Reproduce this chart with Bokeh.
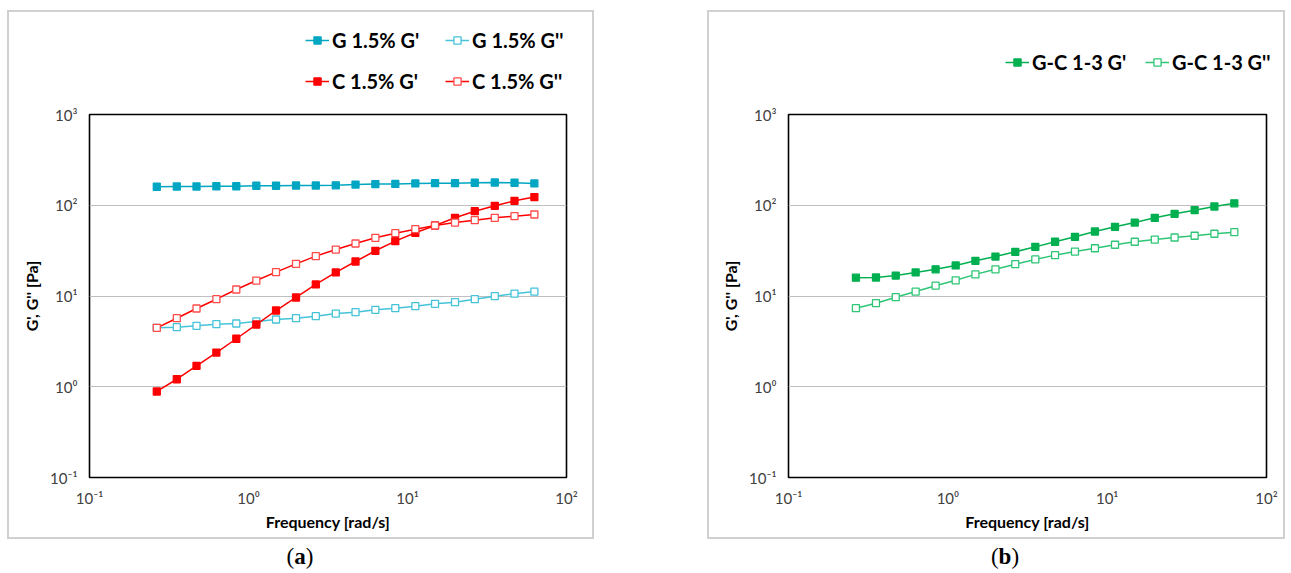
from bokeh.plotting import figure
from bokeh.layouts import row, column
from bokeh.models import (FixedTicker, CustomJSTickFormatter, Legend, LegendItem,
                          Range1d, Div, Spacer, Plot)
from bokeh.embed import file_html
from bokeh.resources import INLINE

# ---------------- data ----------------
freq = [0.265, 0.354, 0.471, 0.628, 0.838, 1.12, 1.49, 1.99, 2.65, 3.54,
        4.71, 6.28, 8.38, 11.2, 14.9, 19.9, 26.5, 35.4, 47.1, 62.8]

g15_gp = [160, 161, 161, 162, 162, 164, 164, 165, 165, 166,
          169, 171, 172, 174, 175, 175, 177, 178, 177, 174]
g15_gpp = [4.46, 4.53, 4.69, 4.89, 4.98, 5.24, 5.51, 5.69, 5.99, 6.41,
           6.63, 7.05, 7.34, 7.72, 8.20, 8.55, 9.22, 9.95, 10.6, 11.2]
c15_gp = [0.887, 1.21, 1.70, 2.38, 3.38, 4.85, 6.92, 9.63, 13.4, 18.2,
          24.0, 31.5, 40.2, 49.7, 59.8, 72.7, 86.0, 98.6, 112, 123]
c15_gpp = [4.46, 5.69, 7.28, 9.22, 11.8, 14.8, 18.3, 22.6, 27.5, 32.5,
           37.9, 43.8, 49.2, 54.5, 59.8, 64.5, 68.4, 72.7, 75.7, 79.1]
gc13_gp = [15.9, 16.0, 16.8, 18.2, 19.7, 21.7, 24.4, 27.2, 30.7, 34.8,
           39.6, 44.9, 51.4, 57.9, 64.5, 72.7, 80.5, 88.2, 96.9, 105]
gc13_gpp = [7.34, 8.33, 9.70, 11.2, 13.0, 14.9, 17.3, 19.7, 22.4, 25.3,
            28.2, 30.9, 33.6, 36.7, 39.6, 41.9, 44.1, 46.1, 48.5, 50.5]

x_ticks = [0.1, 1, 10, 100]
y_ticks = [0.1, 1, 10, 100, 1000]

legend_a_col1 = ["G 1.5% G'", "C 1.5% G'"]
legend_a_col2 = ["G 1.5% G''", "C 1.5% G''"]
legend_b = ["G-C 1-3 G'", "G-C 1-3 G''"]
tags = ["a", "b"]

FONT = "Lato"

JS = """
const e = Math.round(Math.log10(tick));
const m = {"-":"\u207b","0":"\u2070","1":"\u00b9","2":"\u00b2","3":"\u00b3",
           "4":"\u2074","5":"\u2075","6":"\u2076","7":"\u2077","8":"\u2078","9":"\u2079"};
return "10" + String(e).split("").map(c => m[c]).join("");
"""

BOX_STYLE = {"outline": "2px solid #d0d0d0", "outline-offset": "-2px"}

TEAL = "#00a6c2"
TEAL_L = "#45c3d9"
RED = "#ff0000"
RED_L = "#ff4a4a"
GREEN = "#00b050"
GREEN_L = "#2ec676"

NOALIGN = {"frame_align": False} if "frame_align" in Plot.properties() else {}


def make_fig(width, left, right):
    p = figure(width=width, height=435, x_axis_type="log", y_axis_type="log",
               x_range=Range1d(0.1, 100), y_range=Range1d(0.1, 1000),
               output_backend="svg", toolbar_location=None,
               min_border_left=left, min_border_right=right,
               min_border_top=10, min_border_bottom=62, **NOALIGN)
    p.background_fill_color = "white"
    p.border_fill_color = None
    p.outline_line_color = "#000000"
    p.outline_line_width = 1.6
    p.xgrid.visible = False
    p.ygrid.grid_line_color = "#bfbfbf"
    p.ygrid.grid_line_width = 1
    p.xaxis.ticker = FixedTicker(ticks=x_ticks, minor_ticks=[])
    p.yaxis.ticker = FixedTicker(ticks=y_ticks, minor_ticks=[])
    p.ygrid.ticker = FixedTicker(ticks=y_ticks, minor_ticks=[])
    for ax in (p.xaxis, p.yaxis):
        ax.formatter = CustomJSTickFormatter(code=JS)
        ax.axis_line_color = None
        ax.major_tick_line_color = None
        ax.minor_tick_line_color = None
        ax.major_label_text_font = FONT
        ax.major_label_text_font_size = "15px"
        ax.major_label_text_color = "#404040"
        ax.axis_label_text_font = FONT
        ax.axis_label_text_font_style = "bold"
        ax.axis_label_text_font_size = "16px"
        ax.axis_label_text_color = "#000000"
    p.xaxis.axis_label = "Frequency [rad/s]"
    p.yaxis.axis_label = "G', G'' [Pa]"
    p.xaxis.major_label_standoff = 5
    p.yaxis.major_label_standoff = 6
    p.xaxis.axis_label_standoff = 2
    p.yaxis.axis_label_standoff = 6
    return p


def legend_fig(width):
    # legend-only strip; its ranges exclude all data so only the legend shows
    lf = figure(width=width, height=94, x_range=Range1d(0, 1), y_range=Range1d(-2, -1),
                output_backend="svg", toolbar_location=None,
                x_axis_location=None, y_axis_location=None,
                min_border_left=0, min_border_right=0, min_border_top=0,
                min_border_bottom=0, **NOALIGN)
    lf.grid.visible = False
    lf.outline_line_color = None
    lf.background_fill_color = None
    lf.border_fill_color = None
    return lf


def series(p, x, y, line_color, mk_line, filled):
    lr = p.line(x, y, line_color=line_color, line_width=1.5)
    sr = p.scatter(x, y, marker="square", size=7,
                   fill_color=mk_line if filled else "white",
                   line_color=mk_line, line_width=1.3)
    return [lr, sr]


def add_legend(lf, labels, ys, styles, loc):
    items = []
    for lbl, y, st in zip(labels, ys, styles):
        items.append(LegendItem(label=lbl, renderers=series(lf, freq, y, *st)))
    leg = Legend(items=items, location=loc, orientation="vertical",
                 label_text_font=FONT, label_text_font_style="bold",
                 label_text_font_size="20px", label_text_color="#000000",
                 glyph_width=24, glyph_height=18, label_height=20,
                 label_standoff=3, spacing=17, padding=0, margin=0,
                 border_line_color=None, background_fill_alpha=0)
    lf.add_layout(leg)


def tag_div(letter, width):
    return Div(text="(<b>%s</b>)" % letter, width=width, height=34,
               styles={"font-family": "Liberation Serif", "font-size": "23px",
                       "line-height": "26px", "text-align": "center", "color": "#000"})


ST_G_GP = (TEAL, TEAL, True)
ST_G_GPP = (TEAL_L, TEAL_L, False)
ST_C_GP = (RED, RED, True)
ST_C_GPP = (RED, RED_L, False)
ST_GC_GP = (GREEN, GREEN, True)
ST_GC_GPP = (GREEN_L, GREEN_L, False)

# ---------------- panel (a) ----------------
pa = make_fig(587, 82, 28)
series(pa, freq, g15_gp, *ST_G_GP)
series(pa, freq, g15_gpp, *ST_G_GPP)
series(pa, freq, c15_gp, *ST_C_GP)
series(pa, freq, c15_gpp, *ST_C_GPP)
la = legend_fig(587)
add_legend(la, legend_a_col1, [g15_gp, c15_gp], [ST_G_GP, ST_C_GP], (298, 11))
add_legend(la, legend_a_col2, [g15_gpp, c15_gpp], [ST_G_GPP, ST_C_GPP], (438, 11))

# ---------------- panel (b) ----------------
pb = make_fig(578, 81, 19)
series(pb, freq, gc13_gp, *ST_GC_GP)
series(pb, freq, gc13_gpp, *ST_GC_GPP)
lb = legend_fig(578)
add_legend(lb, legend_b[:1], [gc13_gp], [ST_GC_GP], (298, 30))
add_legend(lb, legend_b[1:], [gc13_gpp], [ST_GC_GPP], (438, 30))

box_a = column(la, pa, styles=BOX_STYLE)
box_b = column(lb, pb, styles=BOX_STYLE)

layout = row(Spacer(width=7),
             column(Spacer(height=10), box_a, tag_div(tags[0], 576)),
             Spacer(width=113),
             column(Spacer(height=10), box_b, tag_div(tags[1], 586)))
open("out.html", "w").write(file_html(layout, INLINE))
